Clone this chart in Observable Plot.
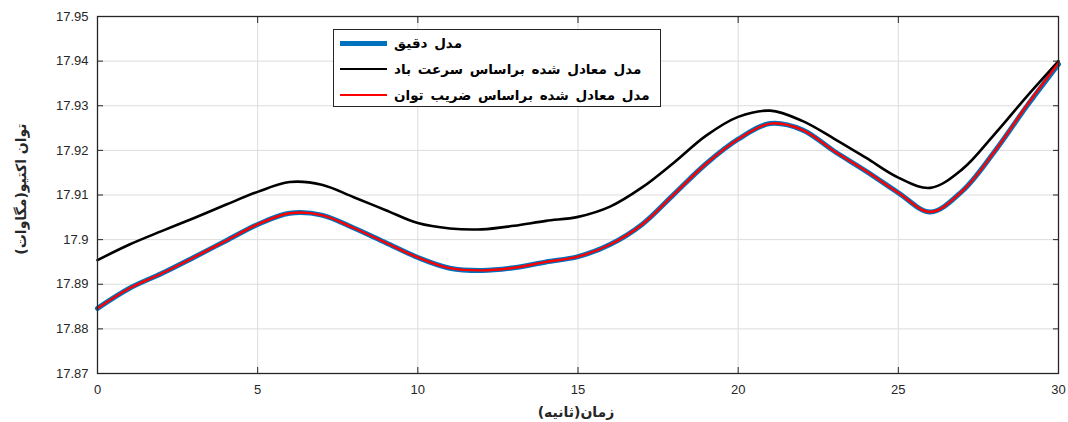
<!DOCTYPE html>
<html>
<head>
<meta charset="utf-8">
<script src="https://cdn.jsdelivr.net/npm/d3@7"></script>
<script src="https://cdn.jsdelivr.net/npm/@observablehq/plot@0.6"></script>
<style>
  html, body { margin: 0; padding: 0; background: #fff; }
  #wrap { position: relative; width: 1068px; height: 422px; overflow: hidden; }
  .lab { position: absolute; font-family: "DejaVu Sans", sans-serif; font-weight: bold; font-size: 14px; color: #262626; white-space: nowrap; }
  #legend { position: absolute; left: 333px; top: 29px; width: 328px; height: 78px; border: 1px solid #262626; background: #fff; box-sizing: border-box; font-family: "DejaVu Sans", sans-serif; font-weight: bold; font-size: 13.5px; word-spacing: 2px; color: #000; white-space: nowrap; }
  .row { position: absolute; left: 6px; height: 22px; display: flex; align-items: center; white-space: nowrap; }
  .row span { white-space: nowrap; }
  .sw { width: 47px; margin-right: 7px; flex: none; }
</style>
</head>
<body>
<div id="wrap"></div>
<script>
const time = [0,1,2,3,4,5,6,7,8,9,10,11,12,13,14,15,16,17,18,19,20,21,22,23,24,25,26,27,28,29,30];
const exactModel = [17.8846,17.8891,17.8924,17.8960,17.8997,17.9034,17.9059,17.9055,17.9026,17.8993,17.8960,17.8936,17.8931,17.8937,17.8950,17.8962,17.8989,17.9034,17.9102,17.9170,17.9225,17.9260,17.9246,17.9198,17.9153,17.9105,17.9062,17.9109,17.9197,17.9298,17.9393];
const windModel  = [17.8954,17.8989,17.9019,17.9048,17.9078,17.9107,17.9129,17.9123,17.9095,17.9066,17.9037,17.9025,17.9023,17.9031,17.9042,17.9051,17.9074,17.9117,17.9173,17.9233,17.9275,17.9289,17.9266,17.9226,17.9183,17.9139,17.9116,17.9158,17.9236,17.9320,17.9400];
const pfModel    = [17.8846,17.8891,17.8924,17.8960,17.8997,17.9034,17.9059,17.9055,17.9026,17.8993,17.8960,17.8936,17.8931,17.8937,17.8950,17.8962,17.8989,17.9034,17.9102,17.9170,17.9225,17.9260,17.9246,17.9198,17.9153,17.9105,17.9062,17.9109,17.9197,17.9300,17.9396];
const xTicks = [0,5,10,15,20,25,30];
const yTicks = [17.87,17.88,17.89,17.90,17.91,17.92,17.93,17.94,17.95];
const seriesNames = ["مدل دقیق", "مدل معادل شده براساس سرعت باد", "مدل معادل شده براساس ضریب توان"];
const seriesColors = ["#0072BD", "#000000", "#FF0000"];
const seriesWidths = [5, 2.6, 2.4];
const xLabel = "زمان(ثانیه)";
const yLabel = "توان اکتیو(مگاوات)";

const series = [exactModel, windModel, pfModel];
const rows = [];
series.forEach((vals, s) => vals.forEach((v, i) => rows.push({t: time[i], p: v, s: seriesNames[s]})));

const fmt = d => String(+d.toFixed(2));
const tickColor = "#262626";

const chart = Plot.plot({
  width: 1068,
  height: 422,
  marginLeft: 97,
  marginRight: 10,
  marginTop: 16,
  marginBottom: 49,
  style: {fontFamily: "'Liberation Sans', Arial, sans-serif", fontSize: "13px", color: tickColor, background: "#fff"},
  x: {domain: [0, 30], ticks: xTicks},
  y: {domain: [17.87, 17.95], ticks: yTicks},
  marks: [
    Plot.gridX(xTicks, {stroke: "#dcdcdc", strokeOpacity: 1}),
    Plot.gridY(yTicks, {stroke: "#dcdcdc", strokeOpacity: 1}),
    ...seriesNames.map((name, s) =>
      Plot.line(rows.filter(r => r.s === name), {x: "t", y: "p", stroke: seriesColors[s], strokeWidth: seriesWidths[s], curve: "catmull-rom"})
    ),
    Plot.axisX(xTicks, {anchor: "bottom", tickSize: 0, tickPadding: 11, tickFormat: fmt, label: null, fill: tickColor}),
    Plot.axisY(yTicks, {anchor: "left", tickSize: 0, tickPadding: 9, tickFormat: fmt, label: null, fill: tickColor}),
    Plot.axisX(xTicks, {anchor: "bottom", tickSize: -6, tickFormat: () => "", label: null, stroke: tickColor}),
    Plot.axisX(xTicks, {anchor: "top", tickSize: -6, tickFormat: () => "", label: null, stroke: tickColor}),
    Plot.axisY(yTicks, {anchor: "left", tickSize: -6, tickFormat: () => "", label: null, stroke: tickColor}),
    Plot.axisY(yTicks, {anchor: "right", tickSize: -6, tickFormat: () => "", label: null, stroke: tickColor}),
    Plot.frame({stroke: tickColor, strokeWidth: 1.3})
  ]
});

const wrap = document.getElementById("wrap");
wrap.appendChild(chart);

const xl = document.createElement("div");
xl.className = "lab"; xl.dir = "rtl"; xl.textContent = xLabel;
xl.style.left = "576px"; xl.style.top = "412px"; xl.style.transform = "translate(-50%, -50%)";
wrap.appendChild(xl);

const yl = document.createElement("div");
yl.className = "lab"; yl.dir = "rtl"; yl.textContent = yLabel;
yl.style.left = "21px"; yl.style.top = "189px"; yl.style.transform = "translate(-50%, -50%) rotate(-90deg)";
wrap.appendChild(yl);

const lg = document.createElement("div");
lg.id = "legend";
[0, 1, 2].forEach((s, i) => {
  const r = document.createElement("div");
  r.className = "row";
  r.style.top = (2 + i * 26) + "px";
  const sw = document.createElement("div");
  sw.className = "sw";
  sw.style.height = seriesWidths[s] + "px";
  sw.style.background = seriesColors[s];
  const tx = document.createElement("span");
  tx.dir = "rtl";
  tx.textContent = seriesNames[s];
  r.appendChild(sw); r.appendChild(tx);
  lg.appendChild(r);
});
wrap.appendChild(lg);
</script>
</body>
</html>
